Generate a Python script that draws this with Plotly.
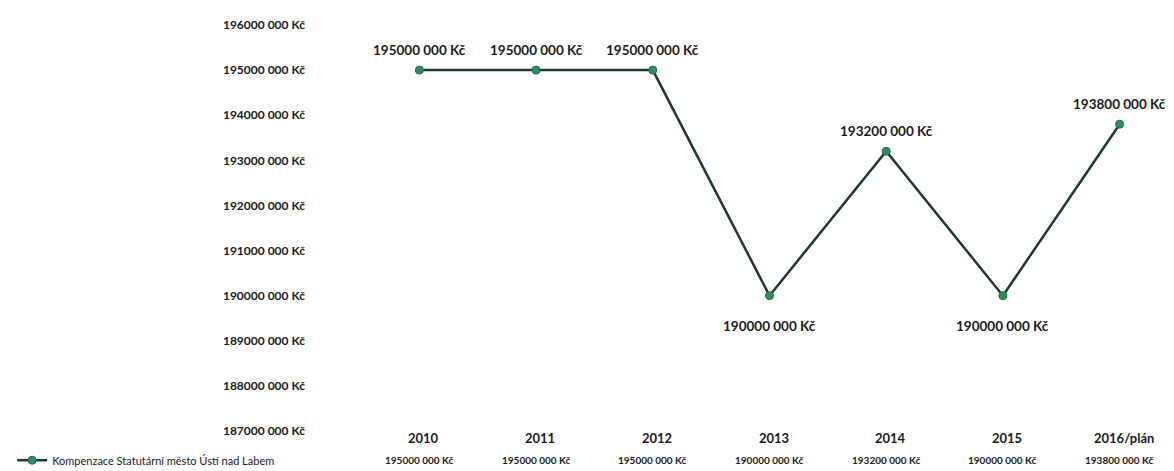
import plotly.graph_objects as go

years = ["2010", "2011", "2012", "2013", "2014", "2015", "2016/plán"]
values = [195000000, 195000000, 195000000, 190000000, 193200000, 190000000, 193800000]
label_pos = ["top", "top", "top", "bottom", "top", "bottom", "top"]
series_name = "Kompenzace Statutární město Ústí nad Labem"
y_ticks = [187000000, 188000000, 189000000, 190000000, 191000000, 192000000,
           193000000, 194000000, 195000000, 196000000]


def fmt(v):
    s = str(int(v))
    return s[:-3] + " " + s[-3:] + " Kč"


FONT = "Lato"
TXT = "#1a1a1a"

fig = go.Figure()
fig.add_trace(go.Scatter(
    x=list(range(len(years))), y=values, mode="lines+markers",
    name=series_name,
    line=dict(color="#1d3a2b", width=2.5),
    marker=dict(color="#2e8f5e", size=8, line=dict(color="#1f6b45", width=1)),
    showlegend=True,
))

annotations = []
for i, (v, p) in enumerate(zip(values, label_pos)):
    annotations.append(dict(
        x=i, y=v, xref="x", yref="y", text=fmt(v), showarrow=False,
        yshift=20 if p == "top" else -30,
        font=dict(family=FONT, size=13.5, color=TXT, weight="bold"),
    ))
    annotations.append(dict(
        x=i, y=-0.018, xref="x", yref="paper", text=years[i], showarrow=False,
        xshift=4, yanchor="middle",
        font=dict(family=FONT, size=13, color=TXT, weight="bold"),
    ))
    annotations.append(dict(
        x=i, y=-0.072, xref="x", yref="paper", text=fmt(v), showarrow=False,
        yanchor="middle",
        font=dict(family=FONT, size=10, color=TXT, weight="bold"),
    ))

fig.update_layout(
    width=1174, height=471,
    margin=dict(l=350, r=4, t=17, b=39),
    paper_bgcolor="white", plot_bgcolor="white",
    font=dict(family=FONT, size=11, color=TXT),
    xaxis=dict(range=[-0.5, 6.5], showticklabels=False, showgrid=False,
               zeroline=False, showline=False, ticks=""),
    yaxis=dict(range=[187000000, 196000000], tickvals=y_ticks,
               ticktext=[fmt(t) for t in y_ticks], showgrid=False,
               zeroline=False, showline=False, ticks="",
               ticklabelstandoff=55,
               tickfont=dict(family=FONT, size=12, color=TXT, weight="bold")),
    legend=dict(x=-0.427, y=-0.072, xanchor="left", yanchor="middle",
                bgcolor="rgba(0,0,0,0)", borderwidth=0,
                font=dict(family=FONT, size=11, color=TXT),
                itemwidth=30),
    annotations=annotations,
)

fig.write_html("out.html")
